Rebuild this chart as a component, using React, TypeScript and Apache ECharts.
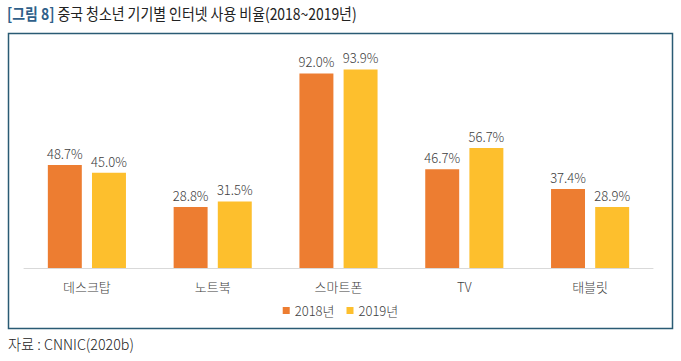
import React, { useEffect, useRef } from "react";
import * as echarts from "echarts";

const categories = ["데스크탑", "노트북", "스마트폰", "TV", "태블릿"];
const series2018 = [48.7, 28.8, 92.0, 46.7, 37.4];
const series2019 = [45.0, 31.5, 93.9, 56.7, 28.9];
const seriesNames = ["2018년", "2019년"];

const FONT = "'Noto Sans CJK KR', 'Noto Sans', sans-serif";

export default function App() {
  const ref = useRef<HTMLDivElement>(null);
  useEffect(() => {
    if (!ref.current) return;
    const chart = echarts.init(ref.current, undefined, { renderer: "svg" });
    const labelCfg = {
      show: true,
      position: "top",
      distance: 5,
      fontSize: 13,
      fontWeight: 300,
      color: "#404040",
      fontFamily: FONT,
      formatter: (p: any) => Number(p.value).toFixed(1) + "%",
    };
    chart.setOption({
      animation: false,
      backgroundColor: "#ffffff",
      textStyle: { fontFamily: FONT },
      grid: { left: 24, right: 28, top: 56.5, bottom: 93, containLabel: false },
      legend: {
        data: seriesNames,
        top: 299,
        left: "center",
        itemWidth: 7,
        itemHeight: 7,
        itemGap: 12,
        icon: "rect",
        textStyle: { fontSize: 13, fontWeight: 300, color: "#404040", fontFamily: FONT },
      },
      xAxis: {
        type: "category",
        data: categories,
        axisLine: { lineStyle: { color: "#d9d9d9", width: 1 } },
        axisTick: { show: false },
        axisLabel: { fontSize: 13, fontWeight: 300, color: "#404040", margin: 12, fontFamily: FONT },
      },
      yAxis: {
        type: "value",
        min: 0,
        max: 100,
        show: false,
        splitLine: { show: false },
      },
      series: [
        {
          name: seriesNames[0],
          type: "bar",
          data: series2018,
          barWidth: "27%",
          barGap: "30%",
          itemStyle: { color: "#ED7D31" },
          label: labelCfg,
        },
        {
          name: seriesNames[1],
          type: "bar",
          data: series2019,
          barWidth: "27%",
          barGap: "30%",
          itemStyle: { color: "#FDBF2D" },
          label: labelCfg,
        },
      ],
      graphic: [
        {
          type: "text",
          x: 7,
          y: 5,
          scaleX: 0.87,
          style: {
            text: "{a|[그림 8]} {b|중국 청소년 기기별 인터넷 사용 비율(2018~2019년)}",
            rich: {
              a: { fontSize: 16, fontWeight: "bold", fill: "#2F5F8A", fontFamily: FONT },
              b: { fontSize: 16, fontWeight: 400, fill: "#222222", fontFamily: FONT },
            },
          },
        },
        {
          type: "rect",
          shape: { x: 8.5, y: 33.5, width: 664, height: 295 },
          style: { fill: "none", stroke: "#2A5B74", lineWidth: 1.5 },
          silent: true,
        },
        {
          type: "text",
          x: 8,
          y: 336,
          scaleX: 0.95,
          style: {
            text: "자료 : CNNIC(2020b)",
            fontSize: 15,
            fontWeight: 300,
            fill: "#222222",
            fontFamily: FONT,
          },
        },
      ],
    });
    return () => chart.dispose();
  }, []);
  return (
    <div
      ref={ref}
      style={{ position: "fixed", left: 0, top: 0, width: 681, height: 361, background: "#fff" }}
    />
  );
}
